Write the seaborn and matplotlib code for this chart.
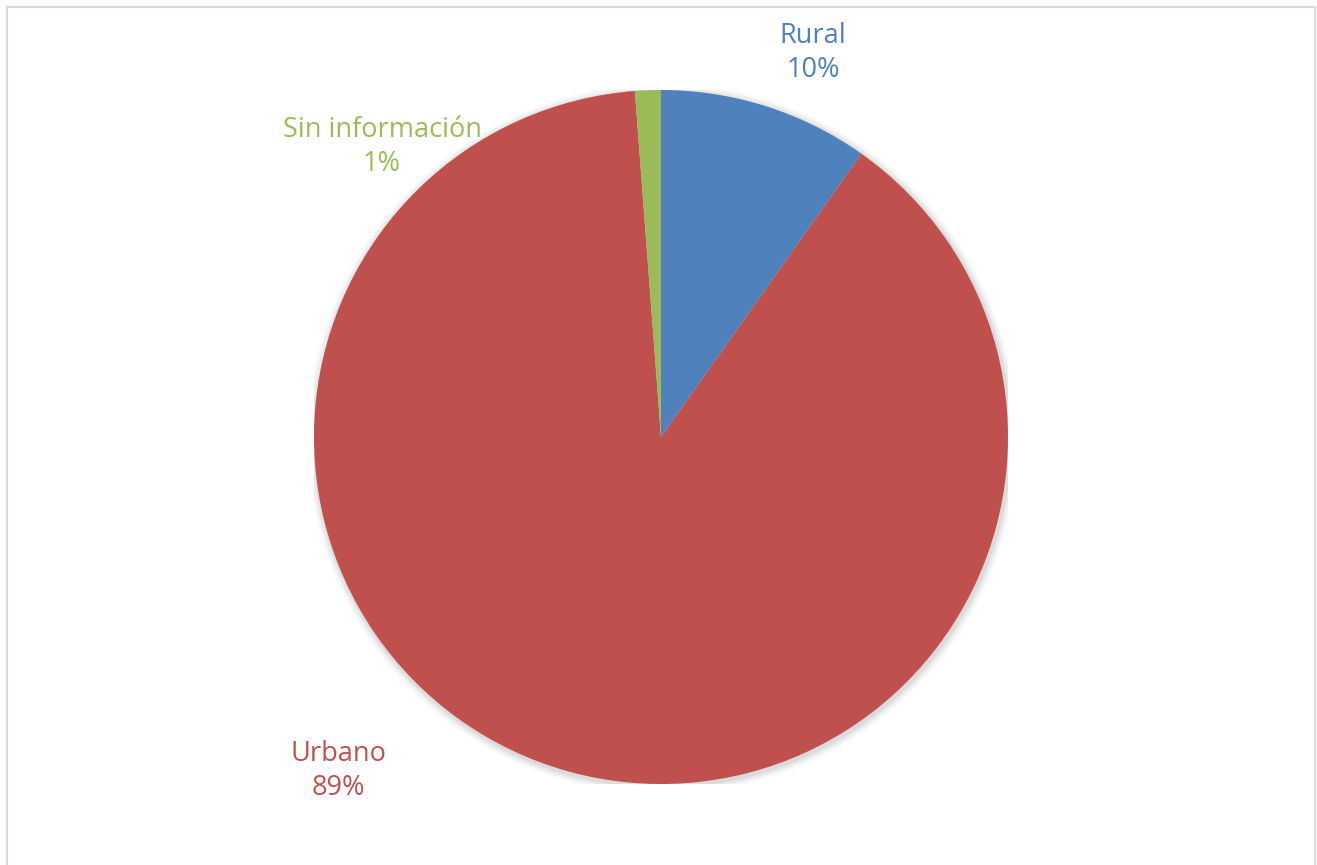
# plot.py - pie chart of zone distribution

import numpy as np
import seaborn as sns
import matplotlib.pyplot as plt
from matplotlib.patches import Rectangle, Circle

# data (clockwise from 12 o'clock)
categories = ['Rural', 'Urbano', 'Sin información']
shares = [9.8, 89.0, 1.2]
pct_labels = ['10%', '89%', '1%']
colors = ['#4F81BD', '#C0504D', '#9BBB59']

sns.set_style("white")
plt.rcParams['font.family'] = ['Open Sans', 'DejaVu Sans']

fig = plt.figure(figsize=(13.17, 8.65), dpi=100)

# light gray frame around the chart area
fig.patches.append(Rectangle((7 / 1317, -0.05), 1308 / 1317, 1.05 - 7 / 865,
                             transform=fig.transFigure, fill=False,
                             edgecolor='#D9D9D9', linewidth=1.5))

# axes sized so the pie sits at the same spot as the reference
cx, cy, r = 661, 437, 347
ax = fig.add_axes([(cx - r) / 1317, (865 - cy - r) / 865, 2 * r / 1317, 2 * r / 865])

# soft shadow behind the pie
for k, a in enumerate([0.05, 0.04, 0.03, 0.02]):
    ax.add_patch(Circle((0.004, -0.006), 1.0 + 0.006 * (k + 1), color='black',
                        alpha=a, linewidth=0, zorder=0))

wedges, _ = ax.pie(shares, colors=sns.color_palette(colors), startangle=90,
                   counterclock=False, radius=1.0,
                   wedgeprops=dict(linewidth=0))
for w in wedges:
    w.set_zorder(2)

# label positions (relative to pie radius)
label_pos = [(0.438, 1.107), (-0.931, -0.963), (-0.804, 0.836)]
for name, pct, col, (lx, ly) in zip(categories, pct_labels, colors, label_pos):
    ax.text(lx, ly, f"{name}\n{pct}", color=col, fontsize=19.5, ha='center',
            va='center', linespacing=1.3, zorder=3)

ax.set_xlim(-1, 1)
ax.set_ylim(-1, 1)
ax.set_aspect('equal')
ax.axis('off')

plt.savefig('out.png', dpi=100)
